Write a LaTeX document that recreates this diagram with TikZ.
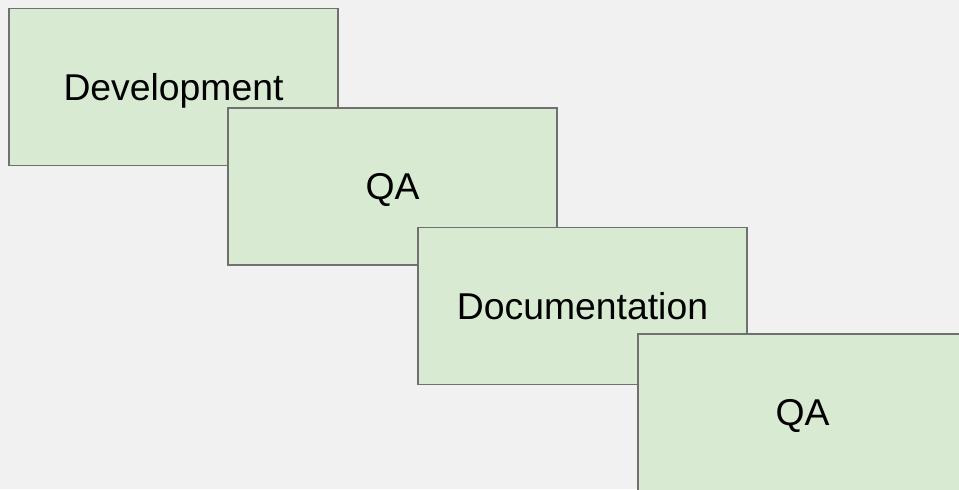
\documentclass[tikz,border=0pt]{standalone}
\usepackage{fontspec}
\setmainfont{Liberation Sans}
\definecolor{bgcol}{HTML}{F1F1F1}
\definecolor{stagefill}{HTML}{D9EAD3}
\definecolor{stageline}{HTML}{707070}
\tikzset{
  stage/.style={draw=stageline, fill=stagefill, line width=1pt, rectangle,
    minimum width=246.75pt, minimum height=117.75pt, inner sep=0pt,
    font=\fontsize{28}{33}\selectfont, text height=20pt, text depth=0pt}
}
\begin{document}
\begin{tikzpicture}[x=0.75pt, y=-0.75pt]
  \fill[bgcol] (0,0) rectangle (959,489);
  \useasboundingbox (0,0) rectangle (959,489);
  \node[stage] (dev)  at (173.5, 87)    {Development};
  \node[stage] (qa1)  at (392.5, 186.5) {QA};
  \node[stage] (doc)  at (582.5, 306)   {Documentation};
  \node[stage] (qa2)  at (802.5, 412.5) {QA};
\end{tikzpicture}
\end{document}
